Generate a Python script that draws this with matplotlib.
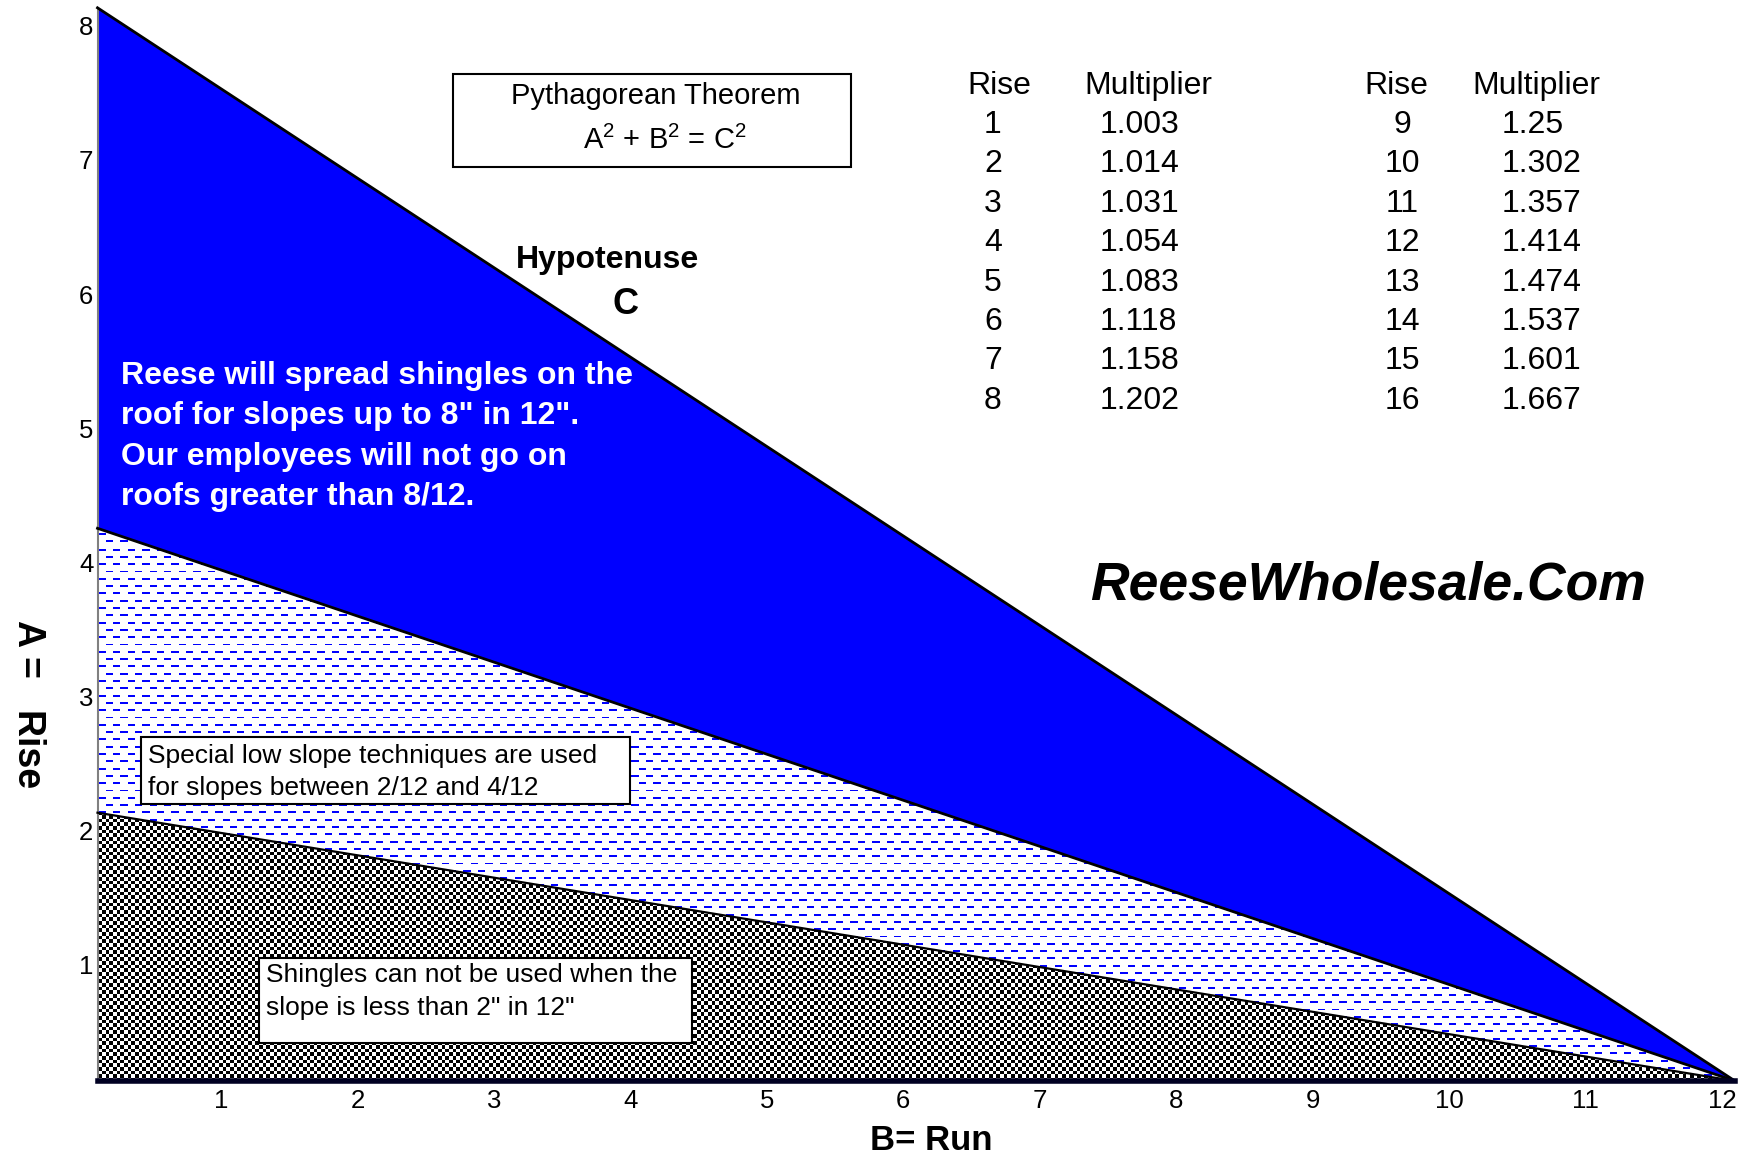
import numpy as np
import matplotlib
matplotlib.use("Agg")
import matplotlib.pyplot as plt
from matplotlib.patches import Rectangle
from matplotlib.transforms import ScaledTranslation

# Roof slope chart: rise against run, three slope zones

plt.rcParams['font.family'] = ['Liberation Sans', 'DejaVu Sans']
plt.rcParams['mathtext.fontset'] = 'custom'
plt.rcParams['mathtext.rm'] = 'Liberation Sans'

# Zone boundaries (rise at run = 0, all meet at run = 12)
run = [0, 12]
rise_top = [8, 0]
rise_mid = [4.12, 0]
rise_low = [2.0, 0]

x_ticks = [1, 2, 3, 4, 5, 6, 7, 8, 9, 10, 11, 12]
y_ticks = [1, 2, 3, 4, 5, 6, 7, 8]

# Multiplier table
rise_left = [1, 2, 3, 4, 5, 6, 7, 8]
mult_left = ["1.003", "1.014", "1.031", "1.054", "1.083", "1.118", "1.158", "1.202"]
rise_right = [9, 10, 11, 12, 13, 14, 15, 16]
mult_right = ["1.25", "1.302", "1.357", "1.414", "1.474", "1.537", "1.601", "1.667"]

W, H = 1738, 1159
fig = plt.figure(figsize=(W / 100, H / 100), dpi=100)


def fx(px):
    return px / W


def fy(py):
    return 1 - py / H


ax = fig.add_axes([fx(97.5), fy(1081), fx(1735) - fx(97.5), fy(7.8) - fy(1081)])
ax.set_xlim(0, 12)
ax.set_ylim(0, 8)

# Solid blue zone
ax.fill_between(run, rise_top, rise_mid, facecolor='#0000ff', edgecolor='none', zorder=1)

# Pattern zones are drawn as pixel images clipped to their polygons
mid_poly = ax.fill_between(run, rise_mid, rise_low, facecolor='white', edgecolor='none', zorder=1)
low_poly = ax.fill_between(run, rise_low, [0, 0], facecolor='white', edgecolor='none', zorder=1)

bbox = ax.get_window_extent()
hp, wp = int(round(bbox.height)), int(round(bbox.width))
rr, cc = np.mgrid[0:hp, 0:wp]

ty = (rr / 1.825).astype(int) % 8
tx = (cc / 1.825).astype(int) % 8
dash_on = ((ty == 0) & (tx < 4)) | ((ty == 4) & (tx >= 4))
dash_img = np.ones((hp, wp, 3))
dash_img[dash_on] = [0.0, 0.0, 1.0]

chk_on = ((rr / 3.65).astype(int) + (cc / 3.65).astype(int)) % 2 == 0
chk_img = np.ones((hp, wp, 3))
chk_img[chk_on] = [0.0, 0.0, 0.0]

im1 = ax.imshow(dash_img, extent=[0, 12, 0, 8], origin='upper', aspect='auto',
                interpolation='nearest', zorder=2)
im1.set_clip_path(mid_poly.get_paths()[0], ax.transData)
im2 = ax.imshow(chk_img, extent=[0, 12, 0, 8], origin='upper', aspect='auto',
                interpolation='nearest', zorder=2)
im2.set_clip_path(low_poly.get_paths()[0], ax.transData)

# Boundary lines
ax.plot(run, rise_top, color='black', lw=2, zorder=4, clip_on=False)
ax.plot(run, rise_mid, color='black', lw=2, zorder=4, clip_on=False)
ax.plot(run, rise_low, color='black', lw=1.6, zorder=4, clip_on=False)

ax.spines['top'].set_visible(False)
ax.spines['right'].set_visible(False)
ax.spines['left'].set_color('#808080')
ax.spines['left'].set_linewidth(1.5)
ax.spines['bottom'].set_color('#000022')
ax.spines['bottom'].set_linewidth(4)
ax.spines['bottom'].set_zorder(6)

ax.set_xticks(x_ticks)
ax.set_yticks(y_ticks)
ax.set_xticklabels([str(v) for v in x_ticks])
ax.set_yticklabels([str(v) for v in y_ticks])
ax.tick_params(length=0, labelsize=18.5)
ax.tick_params(axis='x', pad=6)
ax.tick_params(axis='y', pad=3)
for lab in ax.get_xticklabels():
    lab.set_transform(lab.get_transform() + ScaledTranslation(-0.13, 0, fig.dpi_scale_trans))
for lab in ax.get_yticklabels():
    lab.set_transform(lab.get_transform() + ScaledTranslation(0, -0.18, fig.dpi_scale_trans))

# Axis titles
fig.text(fx(931), fy(1141), "B= Run", fontsize=25, fontweight='bold', ha='center', va='center')
fig.text(fx(28), fy(704), "A =   Rise", fontsize=27, fontweight='bold', rotation=-90,
         ha='center', va='center')

# Hypotenuse label
fig.text(fx(607), fy(260), "Hypotenuse", fontsize=23, fontweight='bold', ha='center', va='center')
fig.text(fx(626), fy(305), "C", fontsize=26, fontweight='bold', ha='center', va='center')

# White note inside the blue zone
note = ["Reese will spread shingles on the",
        "roof for slopes up to 8\" in 12\".",
        "Our employees will not go on",
        "roofs greater than 8/12."]
for i, line in enumerate(note):
    fig.text(fx(121), fy(376 + 40.3 * i), line, color='white', fontsize=23,
             fontweight='bold', ha='left', va='center')

# Pythagorean box
fig.patches.append(Rectangle((fx(453), fy(167)), fx(851) - fx(453), fy(74) - fy(167),
                             transform=fig.transFigure, facecolor='white',
                             edgecolor='black', lw=1.5, zorder=3))
fig.text(fx(656), fy(96), "Pythagorean Theorem", fontsize=21, ha='center', va='center', zorder=4)
fig.text(fx(665), fy(140), "A$^{2}$ + B$^{2}$ = C$^{2}$", fontsize=21, ha='center', va='center',
         zorder=4)

# Multiplier table
fs_tab = 23
fig.text(fx(967), fy(86), "Rise", fontsize=fs_tab, ha='left', va='center')
fig.text(fx(1084), fy(86), "Multiplier", fontsize=fs_tab, ha='left', va='center')
fig.text(fx(1364), fy(86), "Rise", fontsize=fs_tab, ha='left', va='center')
fig.text(fx(1472), fy(86), "Multiplier", fontsize=fs_tab, ha='left', va='center')
for i in range(len(rise_left)):
    y = fy(125 + 39.4 * i)
    fig.text(fx(993), y, str(rise_left[i]), fontsize=fs_tab, ha='center', va='center')
    fig.text(fx(1100), y, mult_left[i], fontsize=fs_tab, ha='left', va='center')
    fig.text(fx(1402), y, str(rise_right[i]), fontsize=fs_tab, ha='center', va='center')
    fig.text(fx(1502), y, mult_right[i], fontsize=fs_tab, ha='left', va='center')

# Website
fig.text(fx(1368), fy(586), "ReeseWholesale.Com", fontsize=38.5, fontweight='bold',
         fontstyle='italic', ha='center', va='center')

# Low slope notes
fig.patches.append(Rectangle((fx(141), fy(804)), fx(630) - fx(141), fy(737) - fy(804),
                             transform=fig.transFigure, facecolor='white',
                             edgecolor='black', lw=1.5, zorder=5))
fig.text(fx(148), fy(756), "Special low slope techniques are used", fontsize=19,
         ha='left', va='center', zorder=6)
fig.text(fx(148), fy(788), "for slopes between 2/12 and 4/12", fontsize=19,
         ha='left', va='center', zorder=6)

fig.patches.append(Rectangle((fx(259), fy(1043)), fx(692) - fx(259), fy(958) - fy(1043),
                             transform=fig.transFigure, facecolor='white',
                             edgecolor='black', lw=1.5, zorder=5))
fig.text(fx(266), fy(975), "Shingles can not be used when the", fontsize=19,
         ha='left', va='center', zorder=6)
fig.text(fx(266), fy(1008), "slope is less than 2\" in 12\"", fontsize=19,
         ha='left', va='center', zorder=6)

fig.savefig("out.png", dpi=100)
